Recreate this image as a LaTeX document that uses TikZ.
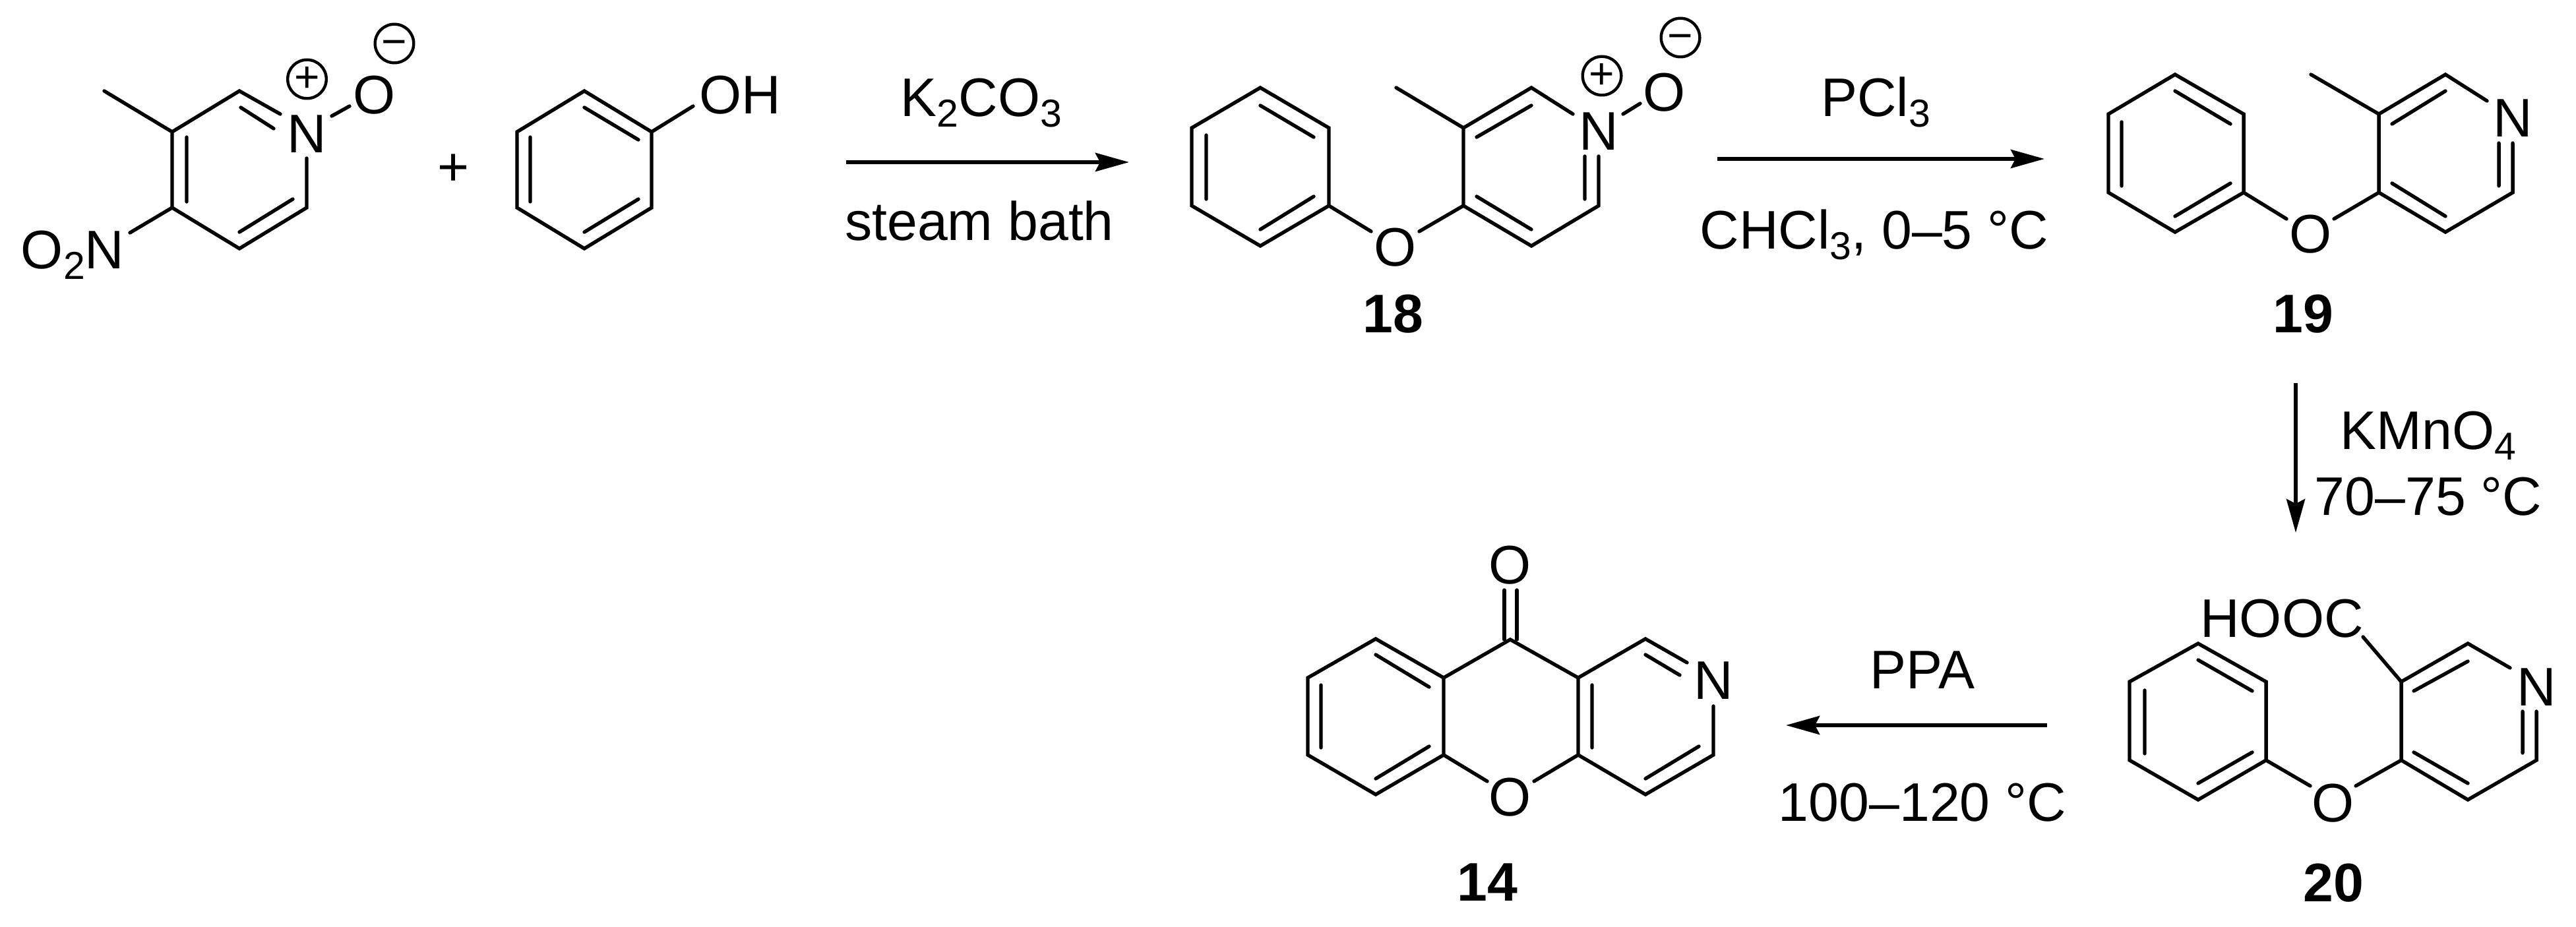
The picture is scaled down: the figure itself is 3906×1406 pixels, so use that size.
\documentclass[tikz,border=0pt]{standalone}
\usepackage{fontspec}
\setmainfont{Liberation Sans}
\usetikzlibrary{arrows.meta}
\newcommand{\subsc}[1]{\raisebox{-8pt}{\fontsize{29.5}{30}\selectfont #1}}
\tikzset{
  bond/.style={line width=2.7pt,line cap=round,line join=miter,miter limit=10,black},
  rxnarrow/.style={line width=3pt,-{Stealth[length=25.5pt,width=14pt,inset=3.5pt]}},
  lbl/.style={inner sep=0pt,outer sep=0pt,anchor=base,font=\fontsize{41.2}{44}\selectfont},
  cpd/.style={lbl,font=\fontsize{41.2}{44}\selectfont\bfseries},
  charge/.style={circle,draw,line width=2.2pt,minimum size=29.3pt,inner sep=0pt,font=\fontsize{33}{33}\selectfont}
}
\begin{document}
\begin{tikzpicture}[x=0.5pt,y=-0.5pt]
\useasboundingbox (0,0) rectangle (3906,1406);
% coordinates
\foreach \n/\x/\y in {
 % nitro N-oxide
 a1/261/200,a2/363/138,a3/425/173,a4/465/240,a5/465/315,a6/363/377,a7/261/315,
 am/158/138,an/197/353,ao1/503/176,ao2/530/161,
 ai1/365/163,ai2/415/195,ai3/283/208,ai4/283/306,ai5/444/302,ai6/363/352,
 % phenol
 b1/988/200,b2/886/138,b3/784/200,b4/784/315,b5/886/377,b6/988/315,bo/1051/161,
 bi1/886/163,bi2/968/212,bi3/804/208,bi4/804/306,bi5/968/302,bi6/886/352,
 % 18
 c1/2015/194,c2/1911/133,c3/1807/194,c4/1807/312,c5/1911/373,c6/2015/312,
 ci1/1911/160,ci2/1992/208,ci3/1829/205,ci4/1829/302,ci5/1992/298,ci6/1911/348,
 co1/2079/351,co2/2152/351,
 d1/2219/194,d2/2322/133,d3/2385/173,d4/2424/237,d5/2424/312,d6/2322/373,d7/2219/312,
 dm/2117/133,do1/2461/173,do2/2487/157,
 di1/2239/208,di2/2322/160,di3/2403/237,di4/2403/302,di5/2322/348,di6/2239/298,
 % 19
 e1/3402/173,e2/3298/113,e3/3197/173,e4/3197/292,e5/3298/352,e6/3402/292,
 ei1/3298/138,ei2/3382/188,ei3/3217/185,ei4/3217/282,ei5/3382/278,ei6/3298/328,
 eo1/3467/332,eo2/3539/332,
 f1/3607/173,f2/3708/113,f3/3771/153,f4/3810/217,f5/3810/292,f6/3708/352,f7/3607/292,
 fm/3504/113,
 fi1/3627/188,fi2/3708/138,fi3/3789/217,fi4/3789/282,fi5/3708/328,fi6/3627/278,
 % 20
 g1/3436/1034,g2/3333/976,g3/3229/1034,g4/3229/1153,g5/3333/1213,g6/3436/1153,
 gi1/3333/1001,gi2/3415/1048,gi3/3252/1047,gi4/3252/1143,gi5/3415/1141,gi6/3333/1188,
 go1/3503/1192,go2/3572/1192,
 h1/3641/1034,h2/3742/976,h3/3806/1013,h4/3846/1079,h5/3846/1153,h6/3742/1213,h7/3641/1153,
 hc/3583/966,
 hi1/3660/1048,hi2/3742/1003,hi3/3825/1079,hi4/3825/1142,hi5/3742/1188,hi6/3660/1141,
 % 14
 k1/2189/1028,k2/2086/969,k3/1983/1028,k4/1983/1145,k5/2086/1205,k6/2189/1145,
 ki1/2086/993,ki2/2167/1042,ki3/2003/1039,ki4/2003/1134,ki5/2167/1132,ki6/2086/1181,
 kc/2290/970,kot1/2281/895,kot2/2300/895,kob1/2281/970,kob2/2300/970,
 ko1/2255/1185,ko2/2326/1185,
 l1/2393/1028,l2/2495/969,l3/2558/1005,l4/2598/1071,l5/2598/1145,l6/2495/1205,l7/2393/1145,
 li1/2495/993,li2/2547/1024,li3/2576/1132,li4/2495/1181,li5/2414/1039,li6/2414/1134,
 % arrows
 r1s/1283/246,r1e/1712/246,r2s/2604/241,r2e/3100/241,r3s/3481/581,r3e/3481/808,r4s/3104/1100,r4e/2708/1100}
 {\coordinate (\n) at (\x,\y);}
% labels
\node[lbl] (Na) at (465,232) {N};
\node[lbl] (Oa) at (568,173) {O};
\node[lbl,anchor=base west] (O2N) at (32,408) {O\subsc{2}N};
\node[charge] (pa) at (465.5,120) {+};
\node[charge] (ma) at (598,66) {\raisebox{-0.05em}{\vphantom{+}−}};
\node[lbl] (plus) at (688,282) {+};
\node[lbl,anchor=base west] (OH) at (1060,173) {OH};
\node[lbl] (K2) at (1488,177) {K\subsc{2}CO\subsc{3}};
\node[lbl] (steam) at (1485,365) {steam bath};
\node[lbl] (Oc) at (2116,404) {O};
\node[lbl] (Nd) at (2424,228) {N};
\node[lbl] (Od) at (2524,169) {O};
\node[charge] (pd) at (2429,115) {+};
\node[charge] (md) at (2548,57) {\raisebox{-0.05em}{\vphantom{+}−}};
\node[cpd] (L18) at (2112,505) {18};
\node[lbl] (PCl) at (2844,177) {PCl\subsc{3}};
\node[lbl] (CHCl) at (2842,378) {CHCl\subsc{3}, 0–5 °C};
\node[lbl] (Oe) at (3503,384) {O};
\node[lbl] (Nf) at (3810,208) {N};
\node[cpd] (L19) at (3492,505) {19};
\node[lbl] (KMn) at (3682,681) {KMnO\subsc{4}};
\node[lbl] (temp3) at (3682,781) {70–75 °C};
\node[lbl] (HOOC) at (3460,966) {HOOC};
\node[lbl] (Og) at (3537,1246) {O};
\node[lbl] (Nh) at (3846,1070) {N};
\node[cpd] (L20) at (3538,1367) {20};
\node[lbl] (PPA) at (2915,1044) {PPA};
\node[lbl] (temp4) at (2915,1245) {100–120 °C};
\node[lbl] (Oko) at (2290,885) {O};
\node[lbl] (Okb) at (2290,1237) {O};
\node[lbl] (Nl) at (2598,1060) {N};
\node[cpd] (L14) at (2255,1366) {14};
% bonds
\draw[bond] (am)--(a1)--(a2)--(a3) (a4)--(a5)--(a6)--(a7)--(a1) (a7)--(an) (ao1)--(ao2);
\draw[bond] (ai1)--(ai2) (ai3)--(ai4) (ai5)--(ai6);
\draw[bond] (b1)--(b2)--(b3)--(b4)--(b5)--(b6)--cycle (b1)--(bo);
\draw[bond] (bi1)--(bi2) (bi3)--(bi4) (bi5)--(bi6);
\draw[bond] (c1)--(c2)--(c3)--(c4)--(c5)--(c6)--cycle (c6)--(co1);
\draw[bond] (ci1)--(ci2) (ci3)--(ci4) (ci5)--(ci6);
\draw[bond] (dm)--(d1)--(d2)--(d3) (d4)--(d5)--(d6)--(d7)--(d1) (d7)--(co2) (do1)--(do2);
\draw[bond] (di1)--(di2) (di3)--(di4) (di5)--(di6);
\draw[bond] (e1)--(e2)--(e3)--(e4)--(e5)--(e6)--cycle (e6)--(eo1);
\draw[bond] (ei1)--(ei2) (ei3)--(ei4) (ei5)--(ei6);
\draw[bond] (fm)--(f1)--(f2)--(f3) (f4)--(f5)--(f6)--(f7)--(f1) (f7)--(eo2);
\draw[bond] (fi1)--(fi2) (fi3)--(fi4) (fi5)--(fi6);
\draw[bond] (g1)--(g2)--(g3)--(g4)--(g5)--(g6)--cycle (g6)--(go1);
\draw[bond] (gi1)--(gi2) (gi3)--(gi4) (gi5)--(gi6);
\draw[bond] (hc)--(h1)--(h2)--(h3) (h4)--(h5)--(h6)--(h7)--(h1) (h7)--(go2);
\draw[bond] (hi1)--(hi2) (hi3)--(hi4) (hi5)--(hi6);
\draw[bond] (k1)--(k2)--(k3)--(k4)--(k5)--(k6)--cycle (k6)--(ko1) (k1)--(kc)--(l1);
\draw[bond] (ki1)--(ki2) (ki3)--(ki4) (ki5)--(ki6);
\draw[bond] (kot1)--(kob1) (kot2)--(kob2);
\draw[bond] (l1)--(l2)--(l3) (l4)--(l5)--(l6)--(l7)--(l1) (l7)--(ko2);
\draw[bond] (li1)--(li2) (li3)--(li4) (li5)--(li6);
% arrows
\draw[rxnarrow] (r1s)--(r1e);
\draw[rxnarrow] (r2s)--(r2e);
\draw[rxnarrow] (r3s)--(r3e);
\draw[rxnarrow] (r4s)--(r4e);
\end{tikzpicture}
\end{document}
